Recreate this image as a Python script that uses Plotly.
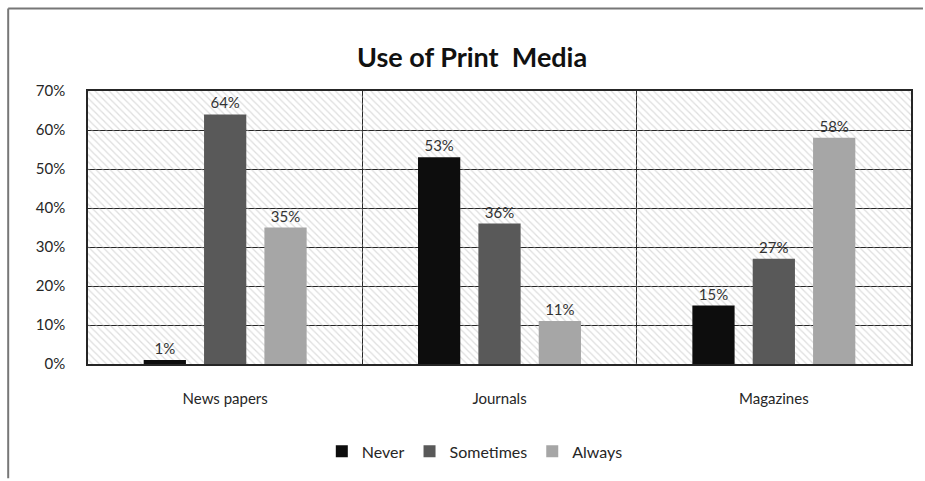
import plotly.graph_objects as go

categories = ["News papers", "Journals", "Magazines"]
series_names = ["Never", "Sometimes", "Always"]
never = [1, 53, 15]
sometimes = [64, 36, 27]
always = [35, 11, 58]
series_values = [never, sometimes, always]
series_colors = ["#0d0d0d", "#595959", "#a6a6a6"]
y_ticks = [0, 10, 20, 30, 40, 50, 60, 70]
y_tick_labels = [f"{v}%" for v in y_ticks]

W, H = 925, 481
ML, MR, MT, MB = 88, 12, 91, 115
PW, PH = W - ML - MR, H - MT - MB

def px_x(px):
    return (px - ML) / PW

def px_y(py):
    return (H - MB - py) / PH

FONT = "Lato, 'Noto Sans', sans-serif"

fig = go.Figure()

# hatched background of the plot area
fig.add_trace(go.Bar(
    x=[0.5], y=[max(y_ticks)], width=[1], xaxis="x", yaxis="y",
    marker=dict(color="rgba(0,0,0,0)", line=dict(width=0),
                pattern=dict(shape="\\", fgcolor="#bdbdbd", bgcolor="rgba(0,0,0,0)",
                             size=5, solidity=0.25)),
    showlegend=False, hoverinfo="skip",
))

for name, vals, col in zip(series_names, series_values, series_colors):
    fig.add_trace(go.Bar(
        x=categories, y=vals, name=name, xaxis="x2", yaxis="y",
        marker=dict(color=col, line=dict(width=0)),
        text=[f"{v}%" for v in vals], texttemplate="%{text}",
        textposition="outside", cliponaxis=False,
        textfont=dict(family=FONT, size=15, color="#333333"),
        hovertemplate="%{x}: %{text}<extra>" + name + "</extra>",
    ))

fig.update_layout(
    width=W, height=H,
    margin=dict(l=ML, r=MR, t=MT, b=MB),
    paper_bgcolor="white", plot_bgcolor="white",
    font=dict(family=FONT, size=15, color="#262626"),
    title=dict(text="<b>Use of Print\u00a0 Media</b>", x=px_x(473), xref="paper",
               xanchor="center", y=1 - 58 / H, yanchor="middle",
               font=dict(family=FONT, size=27, color="#111111")),
    barmode="group", bargap=0.34, bargroupgap=0.3,
    xaxis=dict(range=[0, 1], visible=False, fixedrange=True),
    xaxis2=dict(overlaying="x", side="bottom", type="category",
                showgrid=True, gridcolor="#262626", gridwidth=1.3,
                tickson="boundaries", ticks="", ticklen=0, ticklabelstandoff=20,
                showline=True, linecolor="#262626", linewidth=1.5, mirror=True,
                tickfont=dict(family=FONT, size=15, color="#262626")),
    yaxis=dict(range=[0, 70], tickvals=y_ticks, ticktext=y_tick_labels,
               showgrid=True, gridcolor="#262626", gridwidth=1.3,
               showline=True, linecolor="#262626", linewidth=1.5, mirror=True,
               ticks="", zeroline=False, ticklabelstandoff=18,
               tickfont=dict(family=FONT, size=15, color="#262626")),
    legend=dict(orientation="h", x=0.47, xanchor="center", y=px_y(454), yanchor="middle",
                font=dict(family=FONT, size=16, color="#262626"),
                itemwidth=30, traceorder="normal"),
    shapes=[
        dict(type="line", xref="paper", yref="paper", x0=px_x(8), x1=px_x(925),
             y0=px_y(8), y1=px_y(8), line=dict(color="#777777", width=2)),
        dict(type="line", xref="paper", yref="paper", x0=px_x(8), x1=px_x(8),
             y0=px_y(8), y1=px_y(481), line=dict(color="#777777", width=2)),
    ],
)

fig.write_html("out.html")
